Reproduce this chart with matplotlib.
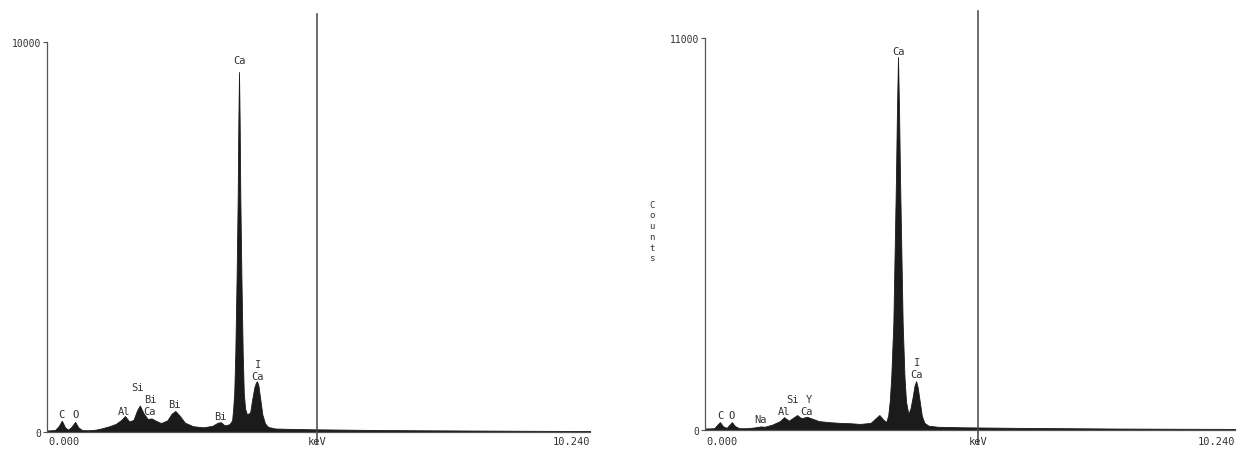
import matplotlib
matplotlib.use("Agg")
import matplotlib.pyplot as plt

# left spectrum outline (keV, counts)
left_kev = [0.00, 0.15, 0.22, 0.28, 0.34, 0.40, 0.46, 0.53, 0.59, 0.66, 0.78, 0.92, 1.05, 1.18,
            1.30, 1.40, 1.47, 1.55, 1.63, 1.70, 1.75, 1.82, 1.90, 1.97, 2.05, 2.15, 2.27, 2.35,
            2.42, 2.50, 2.60, 2.75, 2.95, 3.12, 3.22, 3.28, 3.35, 3.44, 3.49, 3.51, 3.53, 3.55,
            3.575, 3.595, 3.608, 3.62, 3.632, 3.645, 3.665, 3.69, 3.71, 3.735, 3.77, 3.83, 3.87,
            3.91, 3.94, 3.96, 3.985, 4.02, 4.06, 4.11, 4.17, 4.30, 4.6, 5.0, 6.0, 7.0, 8.0, 9.0, 10.24]
left_cnt = [40, 50, 150, 290, 120, 60, 130, 260, 120, 50, 45, 60, 100, 150,
            210, 310, 410, 270, 310, 560, 680, 480, 330, 350, 290, 230, 300, 470,
            540, 420, 240, 150, 120, 160, 240, 250, 170, 200, 300, 600, 1000, 2000,
            4000, 6000, 8000, 9230, 8000, 6000, 4000, 2000, 1000, 600, 450, 500, 850,
            1150, 1270, 1300, 1200, 850, 450, 220, 130, 90, 80, 70, 55, 45, 38, 32, 25]
left_labels = ["C", "O", "Al", "Si", "Bi", "Ca", "Bi", "Bi", "I", "Ca", "Ca"]
left_lab_kev = [0.28, 0.53, 1.45, 1.70, 1.94, 1.94, 2.41, 3.26, 3.98, 3.96, 3.62]
left_lab_cnt = [460, 460, 540, 1160, 850, 540, 720, 410, 1750, 1440, 9530]

# right spectrum outline
right_kev = [0.00, 0.18, 0.24, 0.29, 0.35, 0.42, 0.47, 0.52, 0.58, 0.66, 0.80, 0.95, 1.08, 1.15,
             1.30, 1.45, 1.53, 1.62, 1.72, 1.78, 1.86, 1.97, 2.05, 2.20, 2.40, 2.60, 2.80, 3.00,
             3.20, 3.30, 3.37, 3.44, 3.50, 3.54, 3.57, 3.60, 3.64, 3.665, 3.69, 3.71, 3.73,
             3.75, 3.77, 3.795, 3.82, 3.855, 3.885, 3.93, 3.97, 4.01, 4.05, 4.08, 4.11, 4.15,
             4.19, 4.24, 4.32, 4.5, 5.0, 6.0, 7.0, 8.0, 9.0, 10.24]
right_cnt = [40, 50, 150, 220, 100, 60, 140, 220, 110, 50, 50, 70, 100, 90,
             150, 250, 360, 260, 360, 420, 330, 370, 330, 250, 220, 200, 190, 170,
             200, 330, 420, 300, 220, 400, 800, 1500, 3000, 5000, 7000, 9000, 10470,
             9000, 7000, 5000, 3000, 1500, 800, 450, 600, 900, 1250, 1370, 1200, 800,
             400, 200, 120, 90, 75, 60, 50, 40, 35, 30]
right_labels = ["C", "O", "Na", "Al", "Si", "Y", "Ca", "I", "Ca", "Ca"]
right_lab_kev = [0.29, 0.52, 1.08, 1.53, 1.70, 2.01, 1.97, 4.10, 4.08, 3.73]
right_lab_cnt = [420, 420, 310, 530, 870, 870, 530, 1900, 1560, 10640]

panels = [
    dict(kev=left_kev, cnt=left_cnt, labels=left_labels, lk=left_lab_kev, lc=left_lab_cnt,
         ymax=10000, cursor=5.09, rect=[0.0375, 0.042, 0.4335, 0.863], cur=(-0.031, 1.072)),
    dict(kev=right_kev, cnt=right_cnt, labels=right_labels, lk=right_lab_kev, lc=right_lab_cnt,
         ymax=11000, cursor=5.27, rect=[0.5626, 0.0465, 0.423, 0.867], cur=(-0.036, 1.069)),
]

mono = "DejaVu Sans Mono"
ink = "#1b1b1b"
txt = "#333333"

fig = plt.figure(figsize=(12.53, 4.52), dpi=100)
label_y = 1 - 442 / 452
for p in panels:
    ax = fig.add_axes(p["rect"])
    ax.fill_between(p["kev"], p["cnt"], 0, color=ink, lw=0.6, edgecolor=ink)
    ax.set_xlim(0, 10.24)
    ax.set_ylim(0, p["ymax"])
    for s in ["top", "right"]:
        ax.spines[s].set_visible(False)
    for s in ["left", "bottom"]:
        ax.spines[s].set_color("#555555")
        ax.spines[s].set_linewidth(0.9)
    ax.set_yticks([0, p["ymax"]])
    ax.set_yticklabels(["0", str(p["ymax"])], family=mono, fontsize=7, color=txt)
    ax.tick_params(axis="y", length=3, width=0.8, color="#555555", pad=1)
    ax.set_xticks([])
    ax.axvline(p["cursor"], ymin=p["cur"][0], ymax=p["cur"][1], color="#444444",
               lw=1.1, clip_on=False)
    trans = ax.get_xaxis_transform()
    x0, y0, w, h = p["rect"]
    yl = (label_y - y0) / h
    ax.text(0.003, yl, "0.000", transform=ax.transAxes, ha="left", va="center",
            family=mono, fontsize=7.5, color=txt)
    ax.text(1.0, yl, "10.240", transform=ax.transAxes, ha="right", va="center",
            family=mono, fontsize=7.5, color=txt)
    ax.text(p["cursor"], yl, "keV", transform=trans, ha="center", va="center",
            family=mono, fontsize=7.5, color=txt)
    for lab, e, c in zip(p["labels"], p["lk"], p["lc"]):
        ax.text(e, c, lab, ha="center", va="center", family=mono, fontsize=7.5, color=txt)

fig.text(652 / 1253, 1 - 232 / 452, "C\no\nu\nn\nt\ns", ha="center", va="center",
         family=mono, fontsize=6.5, color=txt, linespacing=1.25)

fig.savefig("out.png", dpi=100)
